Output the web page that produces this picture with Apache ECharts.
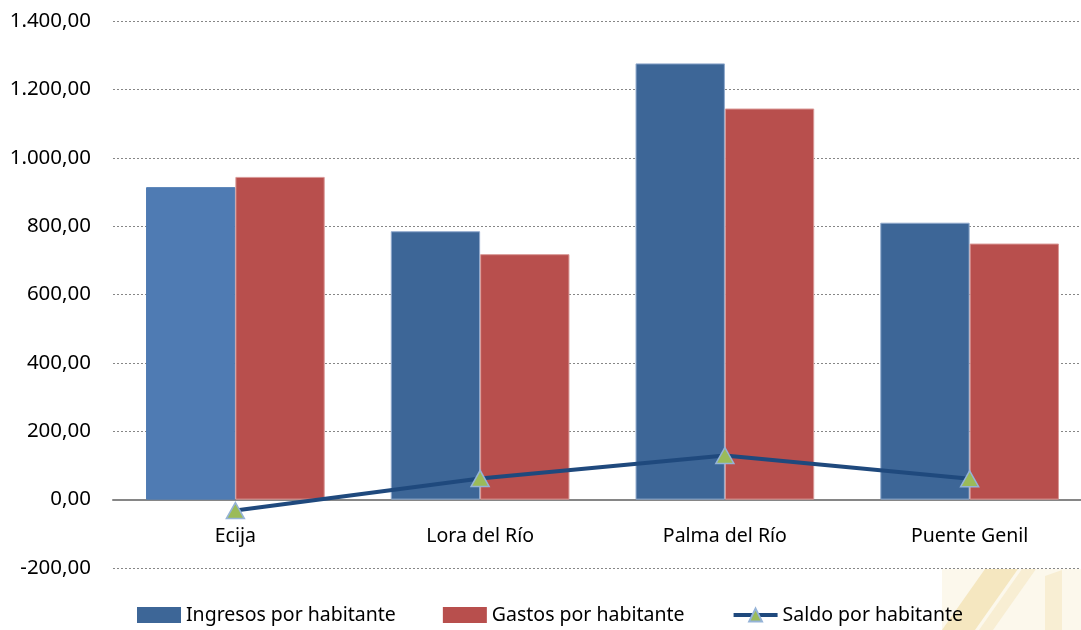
<!DOCTYPE html>
<html>
<head>
<meta charset="utf-8">
<script src="https://cdn.jsdelivr.net/npm/echarts@6/dist/echarts.min.js"></script>
<style>html,body{margin:0;padding:0;background:#fff}#c{width:1081px;height:630px}</style>
</head>
<body>
<div id="c"></div>
<script>
const categories = ['Ecija', 'Lora del Río', 'Palma del Río', 'Puente Genil'];
const ingresos = [914, 785, 1276, 810];
const gastos = [944, 718, 1144, 749];
const saldo = [-32, 62, 129, 61];
const seriesNames = ['Ingresos por habitante', 'Gastos por habitante', 'Saldo por habitante'];

const chart = echarts.init(document.getElementById('c'), null, {renderer: 'canvas'});
const FONT = 'Noto Sans';
const fmt = v => {
  const neg = v < 0; v = Math.abs(v);
  const s = Math.round(v).toString().replace(/\B(?=(\d{3})+(?!\d))/g, '.');
  return (neg ? '-' : '') + s + ',00';
};
chart.setOption({
  animation: false,
  backgroundColor: '#fff',
  graphic: [
    {type: 'polygon', z: -10, silent: true, shape: {points: [[942, 569], [1081, 569], [1081, 630], [942, 630]]}, style: {fill: '#FCF8EC'}},
    {type: 'polygon', z: -9, silent: true, shape: {points: [[985, 569], [1018, 569], [975, 630], [942, 630]]}, style: {fill: '#F5E7C0'}},
    {type: 'polygon', z: -9, silent: true, shape: {points: [[1022, 569], [1036, 569], [993, 630], [979, 630]]}, style: {fill: '#F8EED3'}},
    {type: 'polygon', z: -9, silent: true, shape: {points: [[1045, 576], [1062, 570], [1062, 630], [1045, 630]]}, style: {fill: '#F8EED3'}}
  ],
  grid: {left: 113, width: 979, top: 21, bottom: 62, containLabel: false, outerBoundsMode: 'none'},
  legend: {
    left: 137, top: 605, padding: 0,
    itemWidth: 44, itemHeight: 16, itemGap: 47,
    textStyle: {fontFamily: FONT, fontSize: 19.5, color: '#000'},
    data: [
      {name: seriesNames[0], icon: 'rect', itemStyle: {color: '#3D6697', borderWidth: 0}},
      {name: seriesNames[1], icon: 'rect', itemStyle: {color: '#B84F4D', borderWidth: 0}},
      {name: seriesNames[2], lineStyle: {width: 4, color: '#1F497D'}}
    ]
  },
  xAxis: {
    type: 'category',
    data: categories,
    axisLine: {onZero: true, lineStyle: {color: '#868686', width: 2}},
    axisTick: {show: false},
    axisLabel: {fontFamily: FONT, fontSize: 19.5, color: '#000', margin: -42}
  },
  yAxis: {
    type: 'value',
    min: -200, max: 1400, interval: 200,
    axisLine: {show: false},
    axisTick: {show: false},
    axisLabel: {fontFamily: FONT, fontSize: 20.5, color: '#000', margin: 22, formatter: fmt},
    splitLine: {lineStyle: {color: '#868686', type: [2, 2], width: 1}}
  },
  series: [
    {
      name: seriesNames[0], type: 'bar',
      barGap: '0%', barCategoryGap: '27%',
      itemStyle: {color: '#3D6697', borderColor: '#8FA9CC', borderWidth: 1},
      data: ingresos.map((v, i) => i === 0 ? {value: v, itemStyle: {color: '#4F7BB3', borderColor: '#4F7BB3'}} : v)
    },
    {
      name: seriesNames[1], type: 'bar',
      itemStyle: {color: '#B84F4D', borderColor: '#D99896', borderWidth: 1},
      data: gastos
    },
    {
      name: seriesNames[2], type: 'line',
      symbol: 'triangle', symbolSize: [18, 16],
      lineStyle: {color: '#1F497D', width: 4},
      itemStyle: {color: '#9BBB59', borderColor: '#95B3D7', borderWidth: 1.5},
      data: saldo, z: 5
    }
  ]
});
</script>
</body>
</html>
